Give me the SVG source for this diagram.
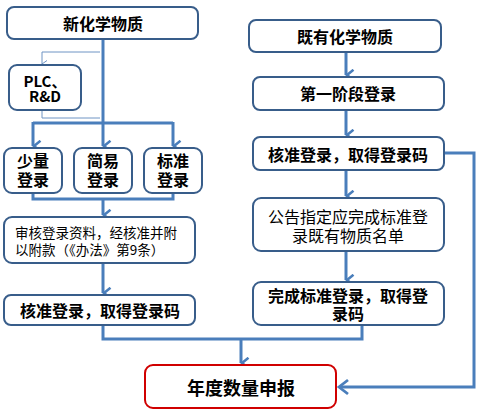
<svg xmlns="http://www.w3.org/2000/svg" width="482" height="412" viewBox="0 0 482 412">
<defs>
<style>
.box{fill:#fff;stroke:#385d8a;stroke-width:2}
.red{fill:#fff;stroke:#d00000;stroke-width:2}
.t{font-family:"Microsoft YaHei","Noto Sans CJK SC",sans-serif;fill:#000;dominant-baseline:central}
.b{font-weight:bold;font-size:16px}
.r{font-size:16px}
.c{stroke:#4a7ebb;stroke-width:3;fill:none}
.thin{stroke:#6f94c4;stroke-width:1;fill:none}
</style>
<marker id="ah" viewBox="0 0 12 10" refX="6" refY="9" markerWidth="12" markerHeight="10" markerUnits="userSpaceOnUse" orient="auto-start-reverse">
<path d="M0.8,1.5 L6,8 L11.2,1.5" fill="none" stroke="#4a7ebb" stroke-width="2.6"/>
</marker>
<marker id="ahs" viewBox="0 0 8 6" refX="4" refY="5.5" markerWidth="8" markerHeight="6" markerUnits="userSpaceOnUse" orient="auto">
<path d="M0.5,0.5 L4,5.5 L7.5,0.5" fill="none" stroke="#6f94c4" stroke-width="1"/>
</marker>
</defs>
<g id="connectors">
<path class="c" d="M103,39 V123"/>
<path class="c" d="M33,123 H173"/>
<path class="c" d="M33,122 V146" marker-end="url(#ah)"/>
<path class="c" d="M103,123 V146" marker-end="url(#ah)"/>
<path class="c" d="M173,122 V146" marker-end="url(#ah)"/>
<path class="thin" d="M100,52 H42 V64" marker-end="url(#ahs)"/>
<path class="thin" d="M42,110 V118 H100"/>
<path class="c" d="M33,193 V199 H173 V193"/>
<path class="c" d="M103,199 V215" marker-end="url(#ah)"/>
<path class="c" d="M103,263 V293" marker-end="url(#ah)"/>
<path class="c" d="M103,325 V339 H362 V325"/>
<path class="c" d="M241,339 V363" marker-end="url(#ah)"/>
<path class="c" d="M346,52 V75" marker-end="url(#ah)"/>
<path class="c" d="M346,110 V135" marker-end="url(#ah)"/>
<path class="c" d="M346,170 V196" marker-end="url(#ah)"/>
<path class="c" d="M346,251 V280" marker-end="url(#ah)"/>
<path class="c" d="M444,153 H474 V387 H339"/>
<path d="M348,380 L339,387 L348,394" fill="none" stroke="#4a7ebb" stroke-width="2.8"/>
</g>
<g id="n_new">
<rect class="box" x="7" y="7" width="191" height="32" rx="7"/>
<text class="t b" x="103" y="23" text-anchor="middle">新化学物质</text>
</g>
<g id="n_plc">
<rect class="box" x="9" y="65" width="72" height="45" rx="8"/>
<text class="t" text-anchor="middle" font-size="15" font-weight="bold" font-family="Liberation Sans, Arial, sans-serif"><tspan x="45" y="80">PLC、</tspan><tspan x="45" y="95">R&amp;D</tspan></text>
</g>
<g id="n_small">
<rect class="box" x="4" y="148" width="58" height="45" rx="8"/>
<text class="t b" text-anchor="middle"><tspan x="33" y="160">少量</tspan><tspan x="33" y="178.5">登录</tspan></text>
</g>
<g id="n_simple">
<rect class="box" x="74" y="148" width="58" height="45" rx="8"/>
<text class="t b" text-anchor="middle"><tspan x="103" y="160">简易</tspan><tspan x="103" y="178.5">登录</tspan></text>
</g>
<g id="n_std">
<rect class="box" x="144" y="148" width="58" height="45" rx="8"/>
<text class="t b" text-anchor="middle"><tspan x="173" y="160">标准</tspan><tspan x="173" y="178.5">登录</tspan></text>
</g>
<g id="n_review">
<rect class="box" x="4" y="217" width="191" height="46" rx="8"/>
<text class="t" font-size="13.5"><tspan x="15" y="232">审核登录资料，经核准并附</tspan><tspan x="15" y="248.5">以附款（《办法》第9条）</tspan></text>
</g>
<g id="n_approve_l">
<rect class="box" x="4" y="295" width="191" height="30" rx="7"/>
<text class="t b" x="100" y="310" text-anchor="middle">核准登录，取得登录码</text>
</g>
<g id="n_existing">
<rect class="box" x="249" y="20" width="192" height="32" rx="7"/>
<text class="t b" x="345" y="36" text-anchor="middle">既有化学物质</text>
</g>
<g id="n_phase1">
<rect class="box" x="253" y="77" width="191" height="33" rx="7"/>
<text class="t b" x="348" y="93" text-anchor="middle">第一阶段登录</text>
</g>
<g id="n_approve_r">
<rect class="box" x="253" y="137" width="191" height="33" rx="7"/>
<text class="t b" x="348" y="153.5" text-anchor="middle">核准登录，取得登录码</text>
</g>
<g id="n_announce">
<rect class="box" x="253" y="198" width="191" height="53" rx="8"/>
<text class="t r" text-anchor="middle"><tspan x="348" y="216">公告指定应完成标准登</tspan><tspan x="348" y="235">录既有物质名单</tspan></text>
</g>
<g id="n_complete">
<rect class="box" x="253" y="282" width="191" height="43" rx="8"/>
<text class="t b" text-anchor="middle"><tspan x="348" y="295">完成标准登录，取得登</tspan><tspan x="348" y="313">录码</tspan></text>
</g>
<g id="n_annual">
<rect class="red" x="145" y="365" width="191" height="43" rx="8"/>
<text class="t" x="241" y="387" text-anchor="middle" font-size="18" font-weight="bold">年度数量申报</text>
</g>
</svg>
